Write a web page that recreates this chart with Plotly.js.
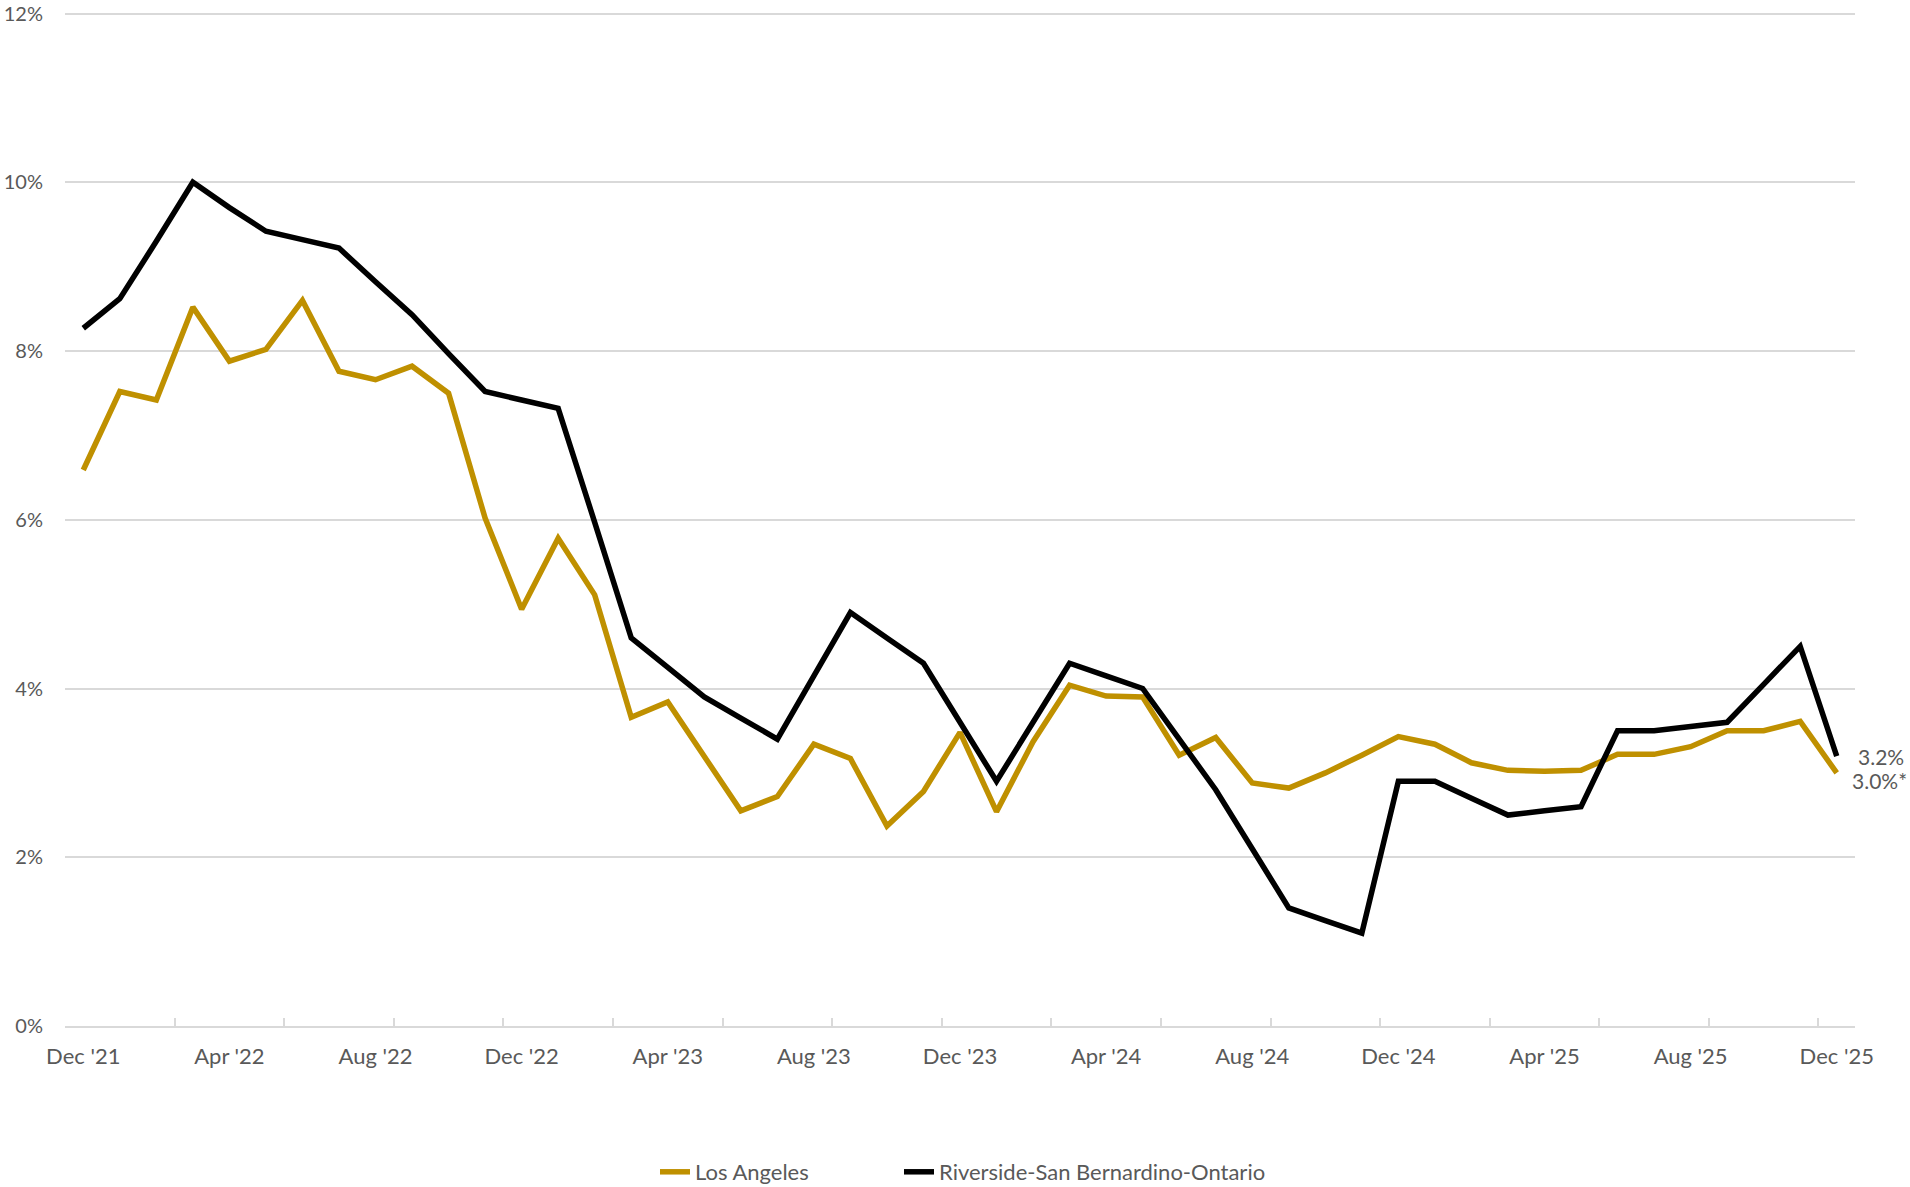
<!DOCTYPE html>
<html><head><meta charset="utf-8">
<script src="https://cdn.plot.ly/plotly-3.0.1.min.js"></script>
<style>html,body{margin:0;padding:0;background:#fff;}#chart{width:1910px;height:1187px;}</style>
</head><body><div id="chart"></div>
<script>
const months = ["Dec '21",
 "Jan '22","Feb '22","Mar '22","Apr '22","May '22","Jun '22","Jul '22","Aug '22","Sep '22","Oct '22","Nov '22","Dec '22",
 "Jan '23","Feb '23","Mar '23","Apr '23","May '23","Jun '23","Jul '23","Aug '23","Sep '23","Oct '23","Nov '23","Dec '23",
 "Jan '24","Feb '24","Mar '24","Apr '24","May '24","Jun '24","Jul '24","Aug '24","Sep '24","Oct '24","Nov '24","Dec '24",
 "Jan '25","Feb '25","Mar '25","Apr '25","May '25","Jun '25","Jul '25","Aug '25","Sep '25","Oct '25","Nov '25","Dec '25"];

const tickLabels = ["Dec '21","Apr '22","Aug '22","Dec '22","Apr '23","Aug '23","Dec '23","Apr '24","Aug '24","Dec '24","Apr '25","Aug '25","Dec '25"];
const yTicks = [0,2,4,6,8,10,12];

const losAngeles = [6.59,7.52,7.42,8.52,7.88,8.02,8.60,7.76,7.66,7.82,7.50,6.02,4.94,
 5.78,5.11,3.66,3.84,3.20,2.55,2.72,3.34,3.17,2.37,2.78,3.48,
 2.54,3.37,4.04,3.91,3.90,3.21,3.42,2.88,2.82,3.00,3.21,3.43,
 3.34,3.12,3.03,3.02,3.03,3.22,3.22,3.31,3.50,3.50,3.61,3.00];

const riverside = [8.27,8.62,9.30,10.00,9.70,9.42,9.32,9.22,8.82,8.43,7.97,7.52,7.42,
 7.32,5.97,4.60,4.25,3.90,3.65,3.40,4.15,4.90,4.60,4.30,3.60,
 2.90,3.60,4.30,4.15,4.00,3.40,2.80,2.10,1.40,1.25,1.10,2.90,
 2.90,2.70,2.50,2.55,2.60,3.50,3.50,3.55,3.60,4.05,4.50,3.20];

const seriesNames = ["Los Angeles","Riverside-San Bernardino-Ontario"];
const labelSuffix = ["%*","%"];

const idx = months.map((m,i)=>i);
const gold = '#BF9000', black = '#000000', gray = '#595959', grid = '#D9D9D9';
const FONT = 'Lato, "Open Sans", sans-serif';

// tick marks sit on category boundaries every 3 categories
const boundaryTicks = [];
for (let i = 0; i < months.length; i += 3) boundaryTicks.push(i - 0.5);

const legendFont = {family:FONT, size:22, color:gray};
const traces = [
 {x: idx, y: losAngeles, name: seriesNames[0], type:'scatter', mode:'lines',
  line:{color:gold, width:5.5}, hoverinfo:'skip', legend:'legend'},
 {x: idx, y: riverside, name: seriesNames[1], type:'scatter', mode:'lines',
  line:{color:black, width:5.5}, hoverinfo:'skip', legend:'legend2'},
 {x: [], y: [], xaxis:'x2', yaxis:'y', showlegend:false, hoverinfo:'skip'}
];

const last = months.length - 1;
const layout = {
 width:1910, height:1187,
 margin:{l:65, r:55, t:11, b:161},
 paper_bgcolor:'#fff', plot_bgcolor:'#fff',
 font:{family:FONT, size:22, color:gray},
 showlegend:true,
 legend:{orientation:'h', xref:'container', yref:'container', x:655/1910, xanchor:'left',
  y:1-1172/1187, yanchor:'middle', font:legendFont, bgcolor:'rgba(0,0,0,0)'},
 legend2:{orientation:'h', xref:'container', yref:'container', x:899/1910, xanchor:'left',
  y:1-1172/1187, yanchor:'middle', font:legendFont, bgcolor:'rgba(0,0,0,0)'},
 xaxis:{range:[-0.5, last+0.5], tickvals: tickLabels.map(t=>months.indexOf(t)), ticktext: tickLabels,
  ticks:'', showgrid:false, zeroline:false, showline:true, linecolor:grid, linewidth:2,
  ticklabelstandoff:10, tickfont:{family:FONT, size:22, color:gray}, fixedrange:true},
 xaxis2:{overlaying:'x', anchor:'y', side:'bottom', range:[-0.5, last+0.5], tickvals: boundaryTicks,
  ticks:'inside', ticklen:8, tickwidth:2, tickcolor:grid, showticklabels:false, showgrid:false,
  zeroline:false, showline:false},
 yaxis:{range:[0,12.03], tickvals:yTicks, ticktext:yTicks.map(v=>v+'%'), showgrid:true, gridcolor:grid, gridwidth:2,
  zeroline:false, showline:false, ticks:'', ticklabelstandoff:21, automargin:false,
  tickfont:{family:FONT, size:20, color:gray}, fixedrange:true},
 annotations:[
  {x:last, y:riverside[last], xref:'x', yref:'y', text: riverside[last].toFixed(1)+labelSuffix[1],
   showarrow:false, xanchor:'left', yanchor:'middle', xshift:19, font:{family:FONT, size:21, color:gray}},
  {x:last, y:losAngeles[last], xref:'x', yref:'y', text: losAngeles[last].toFixed(1)+labelSuffix[0],
   showarrow:false, xanchor:'left', yanchor:'middle', xshift:13, yshift:-8, font:{family:FONT, size:21, color:gray}}
 ]
};
Plotly.newPlot('chart', traces, layout, {displayModeBar:false, staticPlot:true});
</script></body></html>
